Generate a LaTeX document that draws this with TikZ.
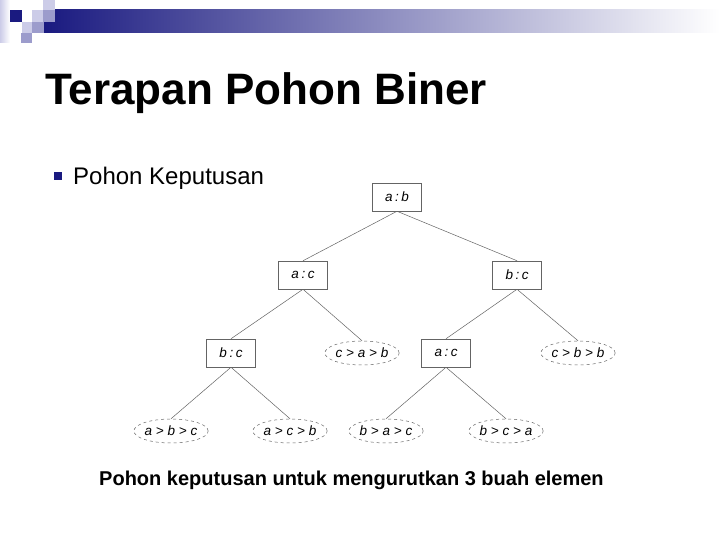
\documentclass[tikz,border=0pt]{standalone}
\usepackage{fontspec}
\setmainfont{Liberation Sans}
\usepackage{xcolor}
\usepackage{tikz}
\usetikzlibrary{shapes}

\definecolor{navy}{RGB}{26,26,128}
\definecolor{lavlight}{RGB}{204,204,232}
\definecolor{lavmid}{RGB}{156,156,204}
\definecolor{treegray}{RGB}{100,100,100}

\newcommand{\cmp}[2]{#1\hspace{2.5pt}:\hspace{2.5pt}#2}

\begin{document}
\begin{tikzpicture}[x=1pt,y=-1pt,
  cmpbox/.style={draw=treegray,line width=0.5pt,rectangle,minimum width=49pt,minimum height=28pt,inner sep=0pt,font=\fontsize{13.5}{15}\selectfont\itshape},
  leaf/.style={draw=treegray,dashed,line width=0.5pt,ellipse,minimum width=73pt,minimum height=24pt,inner sep=0pt,font=\fontsize{13.5}{15}\selectfont\itshape},
  edge/.style={draw=treegray,line width=0.5pt}]
\useasboundingbox (0,0) rectangle (720,540);
\fill[white] (0,0) rectangle (720,540);

% header bar and squares
\shade[left color=navy,right color=white] (44,10) rectangle (720,33);
\shade[left color=lavlight,right color=white] (0,0) rectangle (10,43);
\fill[lavlight] (43,0) rectangle (55,10);
\fill[navy] (10,10) rectangle (22,22);
\fill[lavlight] (32,10) rectangle (43,22);
\fill[lavmid] (43,10) rectangle (55,22);
\fill[lavlight] (22,22) rectangle (32,33);
\fill[lavmid] (32,22) rectangle (44,33);
\fill[lavmid] (21,33) rectangle (32,43);

% title and bullet
\node[anchor=base west,inner sep=0pt,font=\fontsize{44}{50}\selectfont\bfseries] (title) at (45,105) {Terapan Pohon Biner};
\fill[navy] (54,172) rectangle (62,180);
\node[anchor=base west,inner sep=0pt,font=\fontsize{24}{28}\selectfont] (poin) at (73,185) {Pohon Keputusan};

% tree
\node[cmpbox] (ab) at (397,197) {\cmp{a}{b}};
\node[cmpbox] (ac) at (303,275) {\cmp{a}{c}};
\node[cmpbox] (bc) at (517,275) {\cmp{b}{c}};
\node[cmpbox] (bcl) at (231,353) {\cmp{b}{c}};
\node[leaf] (cab) at (362,353) {c > a > b};
\node[cmpbox] (acr) at (446,353) {\cmp{a}{c}};
\node[leaf] (cbb) at (578,353) {c > b > b};
\node[leaf] (abc) at (171,431) {a > b > c};
\node[leaf] (acb) at (290,431) {a > c > b};
\node[leaf] (bac) at (386,431) {b > a > c};
\node[leaf] (bca) at (506,431) {b > c > a};

\draw[edge] (ab.south) -- (ac.north);
\draw[edge] (ab.south) -- (bc.north);
\draw[edge] (ac.south) -- (bcl.north);
\draw[edge] (ac.south) -- (cab.north);
\draw[edge] (bc.south) -- (acr.north);
\draw[edge] (bc.south) -- (cbb.north);
\draw[edge] (bcl.south) -- (abc.north);
\draw[edge] (bcl.south) -- (acb.north);
\draw[edge] (acr.south) -- (bac.north);
\draw[edge] (acr.south) -- (bca.north);

% caption
\node[anchor=base west,inner sep=0pt,font=\fontsize{20}{24}\selectfont\bfseries] (ket) at (99,485) {Pohon keputusan untuk mengurutkan 3 buah elemen};
\end{tikzpicture}
\end{document}
